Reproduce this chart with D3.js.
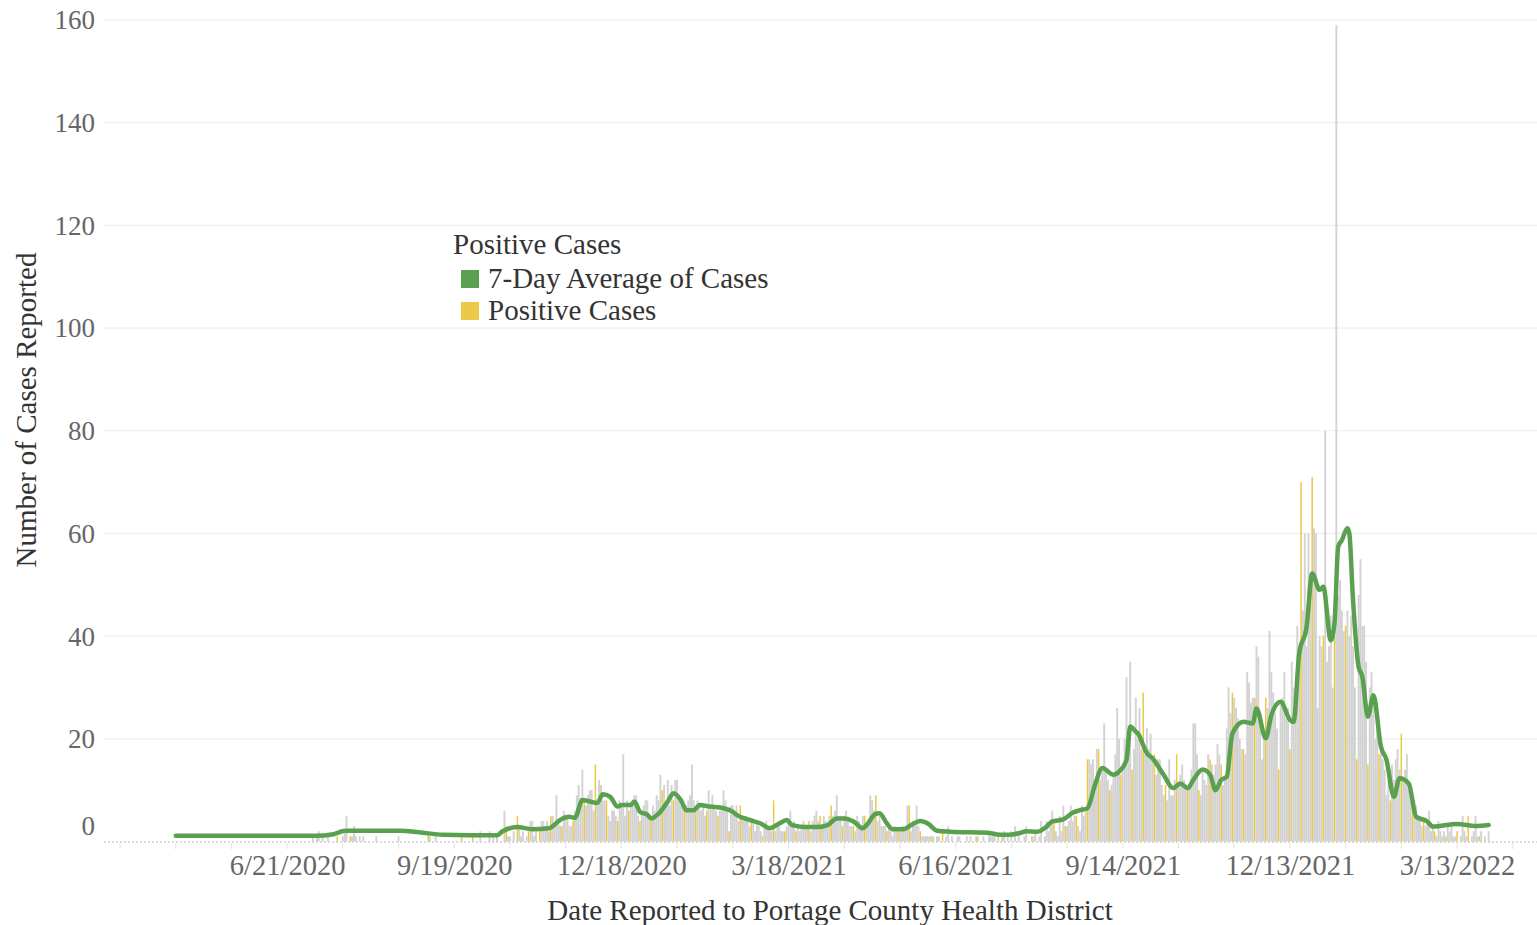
<!DOCTYPE html>
<html>
<head>
<meta charset="utf-8">
<script src="https://cdn.jsdelivr.net/npm/d3@7"></script>
<style>
body { margin: 0; background: #fff; }
text { font-family: "Liberation Serif", "Times New Roman", serif; }
</style>
</head>
<body>
<svg id="chart" width="1537" height="925"></svg>
<script>
"use strict";

var width = 1537;
var height = 925;

// every day number below counts from this date
var dayZero = new Date(Date.UTC(2020, 2, 23));

var tickDates = ["2020-06-21", "2020-09-19", "2020-12-18", "2021-03-18",
    "2021-06-16", "2021-09-14", "2021-12-13", "2022-03-13"];
var yTicks = [0, 20, 40, 60, 80, 100, 120, 140, 160];

// daily positive cases, first value is day 100 (7/1/2020)
var casesStartDay = 100;
var dailyCases = [
    0,0,0,0,1,0,1,2,0,1,  0,0,1,0,0,0,0,1,0,0,  1,2,5,0,1,1,3,1,0,1,
    0,1,0,0,0,0,0,0,1,0,  0,0,0,0,0,0,0,0,0,0,  1,0,0,0,0,0,0,0,0,0,
    0,0,0,0,0,0,2,1,0,0,  1,0,0,0,0,0,0,0,0,0,  0,0,0,0,1,0,0,0,0,0,
    1,0,0,0,2,0,0,0,0,2,  0,1,0,1,0,0,0,6,3,1,  1,0,2,0,5,3,1,2,0,1,
    2,4,4,1,2,0,2,4,4,3,  4,2,5,5,3,9,4,3,3,6,  5,5,3,3,4,6,9,11,8,14,
    8,7,9,10,10,6,15,7,12,11,  8,8,8,5,4,6,6,5,4,8,  7,17,5,8,6,7,8,9,9,5,
    4,6,7,8,8,5,4,7,6,9,  8,13,10,11,8,12,7,11,8,12,  12,9,7,8,6,7,8,9,15,8,
    6,8,7,6,7,5,6,10,7,9,  7,6,5,6,7,10,8,6,2,7,  7,5,7,4,7,5,4,5,4,3,
    4,4,2,4,3,2,1,3,4,3,  2,2,8,2,3,3,2,2,2,3,  4,6,3,4,2,3,2,3,4,3,
    3,4,2,4,5,6,4,5,3,5,  4,3,5,7,5,6,9,4,5,3,  5,6,4,3,3,3,2,5,4,3,
    5,5,3,4,9,8,6,9,4,5,  3,3,3,2,3,2,1,3,2,2,  2,3,3,2,7,7,2,4,3,7,
    3,2,1,1,1,1,1,1,1,0,  1,1,0,2,0,1,3,0,1,0,  0,1,1,0,0,0,1,0,1,0,
    0,1,1,0,0,1,0,0,2,1,  1,2,0,1,0,1,2,0,1,0,  2,0,3,0,2,0,0,1,3,0,
    0,1,1,2,0,1,4,0,1,4,  2,3,6,4,2,1,5,2,7,3,  3,4,7,4,5,5,3,2,7,5,
    6,16,16,15,16,12,18,18,12,14,  23,14,12,10,11,13,17,26,20,13,
    14,20,32,22,35,14,18,28,20,26,  18,29,17,22,18,21,16,17,13,16,
    16,11,9,11,8,16,9,9,12,17,  11,13,15,12,10,10,11,14,23,23,
    17,10,9,14,12,11,17,16,15,13,  15,19,17,15,11,12,22,30,25,29,
    28,26,24,20,18,18,17,33,31,27,  28,28,38,36,25,16,22,28,26,41,
    33,29,25,22,14,27,28,33,24,26,  18,35,30,28,42,36,70,45,60,38,
    60,52,71,61,60,26,40,38,40,80,  35,38,44,30,40,159,48,51,45,41,
    42,45,40,44,38,30,16,48,55,42,  42,35,15,30,33,28,20,22,17,20,
    16,14,9,12,8,15,12,16,18,14,  21,12,14,17,10,9,9,8,7,5,
    5,3,4,3,4,6,2,3,2,1,  4,2,1,2,1,3,2,3,1,1,  2,0,1,5,2,1,5,0,1,2,
    5,1,1,2,0,1,0,2
];

// 7-day average, read at irregular day numbers
var avgDays = [30,105,115,121,151,161,174,203,206,214,222,231,237,242,245,249,253,257,260,264,
    268,270,275,277,280,284,286,291,295,298,302,305,309,312,318,325,330,332,339,345,
    350,355,359,362,370,375,381,386,390,395,400,402,407,409,413,416,422,426,431,435,
    440,447,467,474,479,485,488,494,499,502,508,513,517,521,525,529,535,538,542,544,
    547,548,553,556,562,567,571,575,578,583,587,590,593,596,599,605,610,612,617,620,
    625,630,632,635,639,642,646,648,652,654,656,658,661,662,664,667,669,672,675,679,
    682,686,689,694,698,704,707,720,730,737];
var avgValues = [1.1,1.1,1.4,2.1,2.1,1.8,1.3,1.2,2.0,2.8,2.4,2.6,4.2,4.8,4.6,8.1,7.8,7.5,9.2,8.7,
    6.8,7.1,7.1,7.8,5.8,5.2,4.5,5.8,7.8,9.4,8.1,6.1,6.1,7.1,6.8,6.5,5.8,5.2,4.2,3.5,
    2.6,3.5,4.2,3.2,2.8,2.8,3.2,4.5,4.5,3.9,2.6,3.2,5.4,5.5,3.5,2.4,2.4,3.2,4.0,3.5,
    2.1,1.9,1.7,1.3,1.3,1.7,2.0,1.9,2.9,3.9,4.3,5.6,6.1,6.5,11.0,14.3,13.0,13.6,15.9,22.4,
    21.4,21.1,17.2,16.2,13.0,10.4,11.3,10.4,12.0,14.0,13.0,10.0,12.0,12.6,21.0,23.3,23.0,25.9,20.1,24.6,
    27.2,23.7,23.3,36.6,41.8,52.2,49.0,49.6,39.2,42.5,57.4,58.7,61.0,60.0,47.0,34.0,32.1,24.3,28.5,18.5,
    15.9,8.7,12.3,11.3,4.8,3.9,2.9,3.4,3.0,3.2];

var legendItems = ["7-Day Average of Cases", "Positive Cases"];
var legendColors = ["#59a14f", "#edc948"];

var dayDate = function(d) { return d3.utcDay.offset(dayZero, d); };
var parseDate = d3.utcParse("%Y-%m-%d");
var fmt = d3.utcFormat("%-m/%-d/%Y");

var x = d3.scaleUtc()
    .domain([dayZero, dayDate(730)])
    .range([120, 1475.6]);
var y = d3.scaleLinear()
    .domain([0, 160])
    .range([841.5, 20]);

var plotLeft = 104;
var plotRight = width;

// the bars only show the tableau yellow on a regular beat, the rest are grey
var yellowDays = new Set(d3.range(-30, 90).map(function(k) {
    return Math.round(256.05 + k * 6.024);
}));

var svg = d3.select("#chart");

// horizontal grid lines
svg.append("g")
    .selectAll("line")
    .data(yTicks.filter(function(v) { return v > 0; }))
    .enter().append("line")
    .attr("x1", plotLeft).attr("x2", plotRight)
    .attr("y1", function(v) { return y(v); })
    .attr("y2", function(v) { return y(v); })
    .attr("stroke", "#eeeeee")
    .attr("stroke-width", 1.2);

// y tick labels
var yAxis = svg.append("g")
    .attr("transform", "translate(95,0)")
    .call(d3.axisLeft(y).tickValues(yTicks).tickSize(0).tickPadding(0));
yAxis.select(".domain").remove();
yAxis.selectAll("text")
    .attr("fill", "#666")
    .attr("font-size", 27)
    .attr("dy", function(v) { return v === 0 ? "-0.25em" : "0.33em"; });

// daily bars, grey first and the yellow ones on top
var bars = dailyCases.map(function(v, i) {
    return { day: casesStartDay + i, value: v };
}).filter(function(b) { return b.value > 0; });

svg.append("g")
    .selectAll("rect")
    .data(bars.filter(function(b) { return !yellowDays.has(b.day); }))
    .enter().append("rect")
    .attr("x", function(b) { return x(dayDate(b.day)) - 0.95; })
    .attr("width", 1.9)
    .attr("y", function(b) { return y(b.value); })
    .attr("height", function(b) { return y(0) - y(b.value); })
    .attr("fill", "#d2d2d2");

svg.append("g")
    .selectAll("rect")
    .data(bars.filter(function(b) { return yellowDays.has(b.day); }))
    .enter().append("rect")
    .attr("x", function(b) { return x(dayDate(b.day)) - 0.75; })
    .attr("width", 1.5)
    .attr("y", function(b) { return y(b.value); })
    .attr("height", function(b) { return y(0) - y(b.value); })
    .attr("fill", "#ecc846");

// dotted zero line
svg.append("line")
    .attr("x1", plotLeft).attr("x2", plotRight)
    .attr("y1", y(0) + 0.5).attr("y2", y(0) + 0.5)
    .attr("stroke", "#b8b8b8")
    .attr("stroke-dasharray", "2,2");

// small monthly ticks under the base line
svg.append("g")
    .selectAll("line")
    .data(d3.range(0, 751, 30))
    .enter().append("line")
    .attr("x1", function(d) { return x(dayDate(d)); })
    .attr("x2", function(d) { return x(dayDate(d)); })
    .attr("y1", 843).attr("y2", 849)
    .attr("stroke", "#e2e2e2");

// x tick labels
var xAxis = svg.append("g")
    .attr("transform", "translate(0,851)")
    .call(d3.axisBottom(x)
        .tickValues(tickDates.map(parseDate))
        .tickFormat(fmt)
        .tickSize(0)
        .tickPadding(0));
xAxis.select(".domain").remove();
xAxis.selectAll("text")
    .attr("fill", "#666")
    .attr("font-size", 28.5)
    .attr("dy", "0.85em");

// 7-day average line
var line = d3.line()
    .x(function(d) { return x(dayDate(d[0])); })
    .y(function(d) { return y(d[1]); })
    .curve(d3.curveMonotoneX);
svg.append("path")
    .datum(d3.zip(avgDays, avgValues))
    .attr("d", line)
    .attr("fill", "none")
    .attr("stroke", "#59a14f")
    .attr("stroke-width", 4.5)
    .attr("stroke-linejoin", "round")
    .attr("stroke-linecap", "round");

// axis titles
svg.append("text")
    .attr("transform", "translate(36,410) rotate(-90)")
    .attr("text-anchor", "middle")
    .attr("font-size", 29)
    .attr("fill", "#333")
    .text("Number of Cases Reported");
svg.append("text")
    .attr("x", 830).attr("y", 920)
    .attr("text-anchor", "middle")
    .attr("font-size", 29)
    .attr("fill", "#333")
    .text("Date Reported to Portage County Health District");

// legend
var legend = svg.append("g").attr("transform", "translate(453,0)");
legend.append("text")
    .attr("x", 0).attr("y", 254)
    .attr("font-size", 29)
    .attr("fill", "#333")
    .text("Positive Cases");
var item = legend.selectAll(".item")
    .data(legendItems)
    .enter().append("g")
    .attr("class", "item")
    .attr("transform", function(d, i) { return "translate(0," + (270 + i * 32) + ")"; });
item.append("rect")
    .attr("x", 8).attr("y", 0)
    .attr("width", 18).attr("height", 18)
    .attr("fill", function(d, i) { return legendColors[i]; });
item.append("text")
    .attr("x", 35).attr("y", 18)
    .attr("font-size", 29)
    .attr("fill", "#333")
    .text(function(d) { return d; });
</script>
</body>
</html>
